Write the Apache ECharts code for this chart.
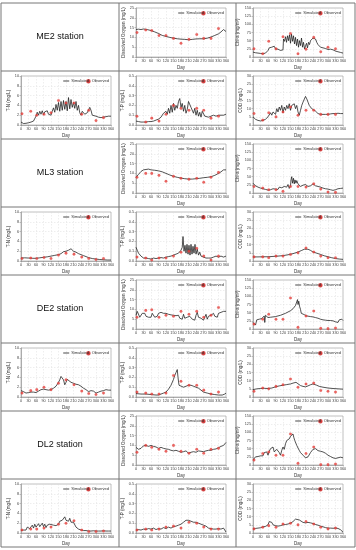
<!DOCTYPE html>
<html><head><meta charset="utf-8">
<script src="https://cdn.jsdelivr.net/npm/echarts@6/dist/echarts.min.js"></script>
<style>html,body{margin:0;padding:0;background:#fff}#c{width:356px;height:550px}</style>
</head><body><div id="c"></div>
<script>
const stations = ['ME2 station','ML3 station','DE2 station','DL2 station'];
const xTicks = [0,30,60,90,120,150,180,210,240,270,300,330,360];
const obsDays = [4,39,63,92,120,150,180,212,243,271,300,330];

// ---- ME2 ----
const ME2_DO_sim = [[0,14],[10,14.2],[20,14],[30,14.3],[45,14],[60,13.5],[75,12.8],[90,12],[105,11],[120,10.5],[135,10],[150,9.6],[165,9.3],[180,9.1],[195,9],[210,8.8],[225,9],[240,9.2],[255,9.3],[270,9.3],[285,9.6],[300,10.2],[315,11],[330,11.8],[340,12.8],[350,14],[355,13.5],[360,13]];
const ME2_DO_obs = [12.5,13.8,13.5,11,11,9.5,7,9,11.5,9.5,9.5,14.5];
const ME2_Chl_sim = [[0,15],[10,13],[20,12],[30,11],[40,10],[50,12],[55,16],[60,20],[65,28],[70,22],[75,30],[80,26],[85,33],[90,25],[95,28],[100,24],[105,27],[110,20],[115,21],[120,22],[122,55],[126,48],[130,62],[134,45],[138,65],[142,50],[146,68],[150,42],[154,70],[158,48],[162,65],[166,40],[170,60],[174,35],[178,55],[182,30],[186,50],[190,35],[194,58],[198,30],[202,45],[206,25],[210,30],[214,42],[218,28],[222,45],[226,38],[230,50],[235,48],[240,58],[245,60],[250,55],[255,45],[260,38],[265,34],[270,30],[280,28],[290,26],[300,23],[310,24],[320,22],[330,18],[340,16],[350,14],[360,12]];
const ME2_Chl_obs = [25,10,48,25,62,72,10,24,60,16,30,25];
const ME2_TN_sim = [[0,0.6],[5,0.4],[10,0.3],[20,0.35],[30,0.45],[40,0.6],[50,0.8],[55,1.2],[60,1.8],[65,2.6],[70,2.0],[75,2.8],[80,2.2],[85,2.9],[90,2.1],[95,2.7],[100,2.3],[105,2.9],[110,2.2],[115,2.6],[120,2.0],[125,2.8],[130,3.5],[135,2.6],[140,4.2],[145,3.0],[150,4.6],[155,2.8],[160,4.8],[165,3.0],[170,5.0],[175,3.2],[180,4.8],[185,2.9],[190,5.6],[195,3.3],[200,5.2],[205,3.6],[210,4.6],[215,3.4],[220,4.8],[225,3.0],[230,4.0],[235,2.5],[240,2.0],[245,2.8],[250,3.0],[255,2.2],[260,2.0],[265,2.5],[270,2.4],[275,3.6],[280,3.0],[285,2.0],[290,1.8],[300,1.8],[310,1.6],[320,1.5],[330,1.6],[340,1.7],[350,1.8],[360,1.8]];
const ME2_TN_obs = [2.3,2.8,2,2.2,2.5,5,4.5,4.5,2.2,3,0.9,1.5];
const ME2_TP_sim = [[0,0.04],[10,0.035],[20,0.03],[30,0.03],[40,0.03],[50,0.035],[60,0.035],[70,0.04],[80,0.05],[90,0.06],[100,0.08],[105,0.1],[110,0.12],[115,0.1],[120,0.14],[125,0.11],[130,0.17],[135,0.12],[140,0.2],[145,0.13],[150,0.22],[155,0.15],[160,0.2],[165,0.17],[170,0.24],[175,0.27],[180,0.18],[185,0.22],[190,0.14],[195,0.2],[200,0.12],[205,0.16],[210,0.24],[215,0.26],[220,0.18],[225,0.2],[230,0.12],[235,0.17],[240,0.1],[245,0.15],[250,0.09],[255,0.13],[260,0.08],[265,0.14],[270,0.12],[275,0.09],[280,0.1],[290,0.08],[300,0.09],[310,0.1],[320,0.09],[330,0.1],[340,0.1],[350,0.1],[360,0.11]];
const ME2_TP_obs = [0.09,0.03,0.07,0.04,0.11,0.2,0.17,0.15,0.17,0.15,0.07,0.09];
const ME2_COD_sim = [[0,5],[10,3.5],[20,2.8],[30,2.5],[40,2.8],[50,3.5],[60,5],[65,6],[70,7.5],[75,6],[80,8],[85,9],[90,6.5],[95,10],[100,8],[105,11],[110,9],[115,12],[120,7.5],[125,11],[130,9],[135,12],[140,10],[145,13],[150,9],[155,12],[160,11],[165,13],[170,10],[175,12],[180,8],[185,6],[190,9],[195,12],[200,14],[205,15],[210,17.5],[215,16],[220,14],[225,12],[230,11],[235,10],[240,9],[250,8.5],[260,7],[270,6.5],[280,6.5],[290,6.5],[300,6.5],[310,6.8],[320,7],[330,7],[340,7.2],[350,7],[360,7]];
const ME2_COD_obs = [7,3,7.5,5,8,11,6,9,9,6.5,6.5,6.5];

// ---- ML3 ----
const ML3_DO_sim = [[0,8],[10,9.5],[20,11],[30,11.8],[40,12],[50,12.2],[60,11.8],[75,11.6],[90,11.3],[105,10.8],[120,10],[135,9.2],[150,8.5],[165,8],[180,7.6],[195,7.3],[210,7.1],[225,7.1],[240,7.3],[255,7.5],[270,7.8],[285,8],[300,8.3],[315,9],[330,10],[340,10.8],[350,11.8],[355,12],[360,11.8]];
const ML3_DO_obs = [8,10,10,9,6,8.5,7.5,7,7.5,5.5,8,10.5];
const ML3_Chl_sim = [[0,30],[5,28],[10,22],[15,20],[20,18],[25,16],[30,15],[40,13],[50,11],[55,8],[60,9],[65,12],[70,10],[80,13],[90,12],[95,9],[100,11],[105,18],[110,22],[115,16],[120,14],[125,20],[130,24],[135,18],[140,26],[145,14],[150,22],[152,40],[155,50],[158,30],[162,45],[165,28],[168,40],[172,30],[175,38],[180,28],[185,25],[190,20],[195,22],[200,24],[205,20],[210,26],[215,22],[220,20],[230,22],[240,28],[245,25],[250,22],[260,20],[270,18],[280,15],[290,13],[300,12],[310,10],[320,8],[330,10],[340,13],[350,14],[360,15]];
const ML3_Chl_obs = [20,15,10,10,5,20,20,18,28,12,3,2];
const ML3_TN_sim = [[0,0.6],[15,0.65],[30,0.6],[45,0.55],[60,0.55],[75,0.65],[90,0.75],[105,0.85],[120,1.0],[135,1.15],[150,1.3],[160,1.5],[165,1.7],[170,1.9],[175,1.6],[180,2.0],[185,1.8],[190,2.2],[195,2.3],[200,2.5],[205,2.3],[210,2.0],[220,1.8],[230,1.5],[240,1.3],[250,1.1],[260,0.9],[270,0.7],[285,0.5],[300,0.4],[315,0.3],[330,0.25],[345,0.2],[360,0.2]];
const ML3_TN_obs = [0.5,0.6,0.5,0.7,0.5,1.2,1.6,1.4,0.8,0.5,0.3,0.5];
const ML3_TP_sim = [[0,0.14],[5,0.11],[10,0.08],[20,0.05],[30,0.03],[40,0.03],[50,0.025],[60,0.02],[70,0.03],[80,0.025],[90,0.03],[100,0.035],[110,0.03],[120,0.04],[130,0.045],[140,0.05],[150,0.06],[160,0.07],[170,0.08],[180,0.11],[185,0.14],[188,0.25],[192,0.1],[196,0.16],[200,0.08],[204,0.17],[208,0.07],[212,0.16],[216,0.06],[220,0.17],[224,0.07],[228,0.15],[232,0.08],[236,0.17],[240,0.07],[245,0.12],[250,0.06],[255,0.09],[260,0.05],[270,0.04],[280,0.03],[290,0.03],[300,0.03],[310,0.04],[320,0.05],[330,0.04],[340,0.05],[350,0.04],[360,0.05]];
const ML3_TP_obs = [0.04,0.03,0.01,0.03,0.03,0.05,0.09,0.1,0.13,0.05,0.01,0.05];
const ML3_COD_sim = [[0,2.5],[20,2.5],[40,2.6],[60,2.6],[80,2.8],[100,3],[120,3.3],[140,3.8],[160,4.5],[180,5.5],[195,6.5],[205,7.2],[212,7.8],[220,7.2],[230,6.5],[240,5.5],[255,4.8],[270,4],[285,3.2],[300,2.6],[315,2],[330,1.5],[345,1.2],[360,1]];
const ML3_COD_obs = [2.5,2.5,2,3,3,4,5,8,5.5,3,2,2];

// ---- DE2 ----
const DE2_DO_sim = [[0,7],[5,9],[10,10],[15,6],[20,5],[25,8],[30,9],[35,8],[40,6.5],[45,7.5],[50,6],[55,7],[60,6],[65,8],[70,7.5],[75,6],[80,7],[85,6.5],[90,8],[95,7],[100,8.5],[105,9.5],[110,8],[115,7],[120,8],[125,7],[130,7.5],[135,6.8],[140,7.2],[145,6.5],[150,7],[155,6],[160,6.8],[165,6.2],[170,7],[175,5.5],[180,6.5],[185,5],[190,7.5],[195,5.5],[200,4.5],[205,6],[210,5],[215,6.5],[220,7.5],[225,5],[230,6],[235,4.5],[240,7],[245,8.5],[250,6],[255,7],[260,5.5],[265,6.5],[270,4.5],[275,6],[280,7.5],[285,5],[290,6.5],[295,5.5],[300,7],[305,6],[310,8],[315,6.5],[320,7.5],[325,6],[330,8],[335,7],[340,8.5],[345,7.5],[350,9],[355,9.5],[360,9]];
const DE2_DO_obs = [6,9.5,9.8,6,7,6.5,9,7.5,9,6,7,11];
const DE2_Chl_sim = [[0,20],[5,15],[10,12],[15,28],[20,25],[25,30],[30,28],[35,32],[40,30],[45,40],[47,20],[50,42],[55,38],[60,35],[70,36],[80,37],[90,38],[100,40],[110,42],[120,45],[130,48],[140,52],[150,56],[160,62],[165,68],[170,72],[175,78],[178,90],[180,75],[183,85],[186,70],[190,60],[193,48],[196,45],[200,46],[205,44],[210,45],[215,40],[220,38],[230,38],[240,37],[250,35],[260,33],[270,30],[280,28],[290,27],[300,26],[310,26],[320,25],[330,22],[340,20],[345,28],[350,25],[355,30],[360,26]];
const DE2_Chl_obs = [15,30,45,30,30,95,5,40,55,2,1,3];
const DE2_TN_sim = [[0,1.3],[10,1.1],[20,0.8],[30,0.9],[40,1.0],[50,1.0],[60,0.9],[70,1.2],[80,1.5],[90,1.6],[100,1.5],[110,1.4],[120,1.5],[130,1.8],[140,2.2],[150,3.0],[155,3.5],[160,4.2],[165,4.6],[170,3.5],[175,2.5],[180,3.0],[185,3.6],[190,3.3],[200,3.0],[210,2.8],[220,2.6],[230,2.5],[240,2.2],[250,1.8],[260,1.5],[270,1.1],[280,1.3],[290,1.2],[300,0.8],[310,1.0],[320,1.2],[330,1.3],[340,1.5],[350,1.4],[360,1.4]];
const DE2_TN_obs = [0.8,1.3,1.5,2,1.5,2.8,3.5,2.5,1.2,0.7,0.5,0.8];
const DE2_TP_sim = [[0,0.035],[20,0.03],[40,0.03],[60,0.025],[80,0.02],[90,0.02],[100,0.03],[110,0.04],[120,0.05],[130,0.08],[140,0.12],[150,0.18],[155,0.22],[160,0.25],[165,0.28],[168,0.2],[172,0.12],[180,0.11],[190,0.1],[200,0.11],[210,0.12],[220,0.12],[230,0.11],[240,0.1],[250,0.09],[260,0.07],[270,0.05],[285,0.04],[300,0.03],[315,0.025],[330,0.02],[345,0.02],[355,0.03],[360,0.04]];
const DE2_TP_obs = [0.05,0.04,0.03,0.03,0.04,0.22,0.16,0.12,0.12,0.07,0.03,0.05];
const DE2_COD_sim = [[0,4.5],[15,5],[30,5.2],[45,5.3],[60,5.2],[75,5.5],[90,6.2],[105,6.8],[120,7.2],[135,7.6],[150,8],[160,8.5],[168,9.5],[172,9],[180,8],[190,7],[200,6.5],[210,6.2],[220,6.8],[230,7.5],[240,8],[245,8.2],[255,7.2],[265,6.5],[280,6],[300,5.5],[320,5.2],[340,5],[360,4.8]];
const DE2_COD_obs = [3.5,5.5,5,6.5,7.5,11,6,8,8.5,4,3.5,3];

// ---- DL2 ----
const DL2_DO_sim = [[0,9],[5,8.5],[10,8],[15,9],[20,8.5],[25,9.5],[30,9.8],[35,9.5],[40,10],[45,10.2],[50,9.5],[55,9],[60,10],[65,10.2],[70,9.5],[75,10],[80,9.2],[85,8.8],[90,8.5],[100,9],[110,8.5],[120,8.2],[130,8],[140,7.5],[150,7.2],[160,7.5],[170,7],[180,6.5],[185,7.2],[190,6.8],[200,7.2],[205,6.5],[210,6],[215,6.8],[220,6.5],[225,7.2],[230,6.8],[240,6.5],[245,7],[250,7.2],[260,7],[270,6.8],[275,7.5],[280,7.2],[290,7.5],[300,7.5],[310,8],[320,8.2],[330,8.8],[340,9.5],[345,9],[350,10],[355,11],[360,11.5]];
const DL2_DO_obs = [6.5,10,9,8,7,10,7,6,8,6,8,8.5];
const DL2_Chl_sim = [[0,15],[5,20],[10,25],[15,22],[20,26],[25,20],[30,28],[35,32],[40,28],[45,38],[50,34],[55,40],[60,30],[65,42],[70,50],[75,45],[80,55],[85,40],[90,35],[95,48],[100,52],[105,38],[110,30],[115,45],[120,55],[125,48],[130,65],[135,75],[140,72],[145,80],[150,88],[155,92],[160,95],[163,85],[167,75],[170,70],[175,60],[180,52],[185,45],[190,38],[195,33],[200,30],[205,25],[210,22],[215,28],[220,25],[225,30],[230,38],[235,42],[240,48],[245,52],[250,50],[255,46],[260,44],[270,42],[280,40],[290,36],[300,30],[310,26],[320,22],[330,20],[340,22],[350,24],[360,22]];
const DL2_Chl_obs = [15,35,40,30,30,95,5,35,55,1,1,3];
const DL2_TN_sim = [[0,0.5],[10,0.6],[20,0.6],[25,1.2],[30,1.5],[35,0.9],[40,1.1],[45,1.6],[50,1.0],[55,1.8],[60,1.2],[65,0.8],[70,1.9],[75,1.3],[80,1.0],[85,2.0],[90,1.3],[95,1.8],[100,1.1],[105,1.6],[110,1.2],[115,1.8],[120,1.5],[130,1.6],[140,1.5],[150,1.8],[155,2.4],[160,2.0],[165,2.6],[170,3.0],[175,3.3],[180,2.6],[185,2.8],[190,2.4],[195,3.0],[200,2.2],[205,2.5],[210,2.2],[215,1.8],[220,1.2],[225,1.0],[230,0.8],[240,0.6],[250,0.5],[260,0.5],[270,0.4],[280,0.4],[290,0.45],[300,0.4],[310,0.4],[320,0.4],[330,0.45],[340,0.4],[350,0.4],[360,0.4]];
const DL2_TN_obs = [0.6,0.8,0.8,1,1.2,1.8,2,2.5,0.6,0.3,0.3,0.4];
const DL2_TP_sim = [[0,0.03],[10,0.035],[20,0.03],[30,0.04],[40,0.035],[50,0.045],[60,0.04],[70,0.05],[80,0.035],[90,0.045],[100,0.04],[110,0.055],[120,0.045],[130,0.06],[140,0.05],[150,0.065],[160,0.07],[170,0.08],[180,0.09],[190,0.11],[200,0.13],[205,0.14],[210,0.13],[215,0.14],[220,0.12],[225,0.13],[230,0.11],[240,0.11],[250,0.1],[260,0.09],[270,0.08],[280,0.07],[290,0.05],[300,0.045],[310,0.04],[320,0.04],[330,0.045],[340,0.04],[350,0.05],[355,0.03],[360,0.01]];
const DL2_TP_obs = [0.03,0.04,0.03,0.04,0.06,0.07,0.05,0.11,0.1,0.06,0.04,0.04];
const DL2_COD_sim = [[0,2.5],[10,2.8],[20,3],[30,3.2],[40,3.8],[45,4.5],[50,4],[55,3.5],[60,5],[65,7],[70,6],[75,6.5],[80,5],[90,4.5],[100,4.2],[110,4.5],[120,5],[130,5.2],[140,5.5],[150,6],[160,7],[170,8.5],[178,9.5],[185,8],[190,7],[200,6.5],[210,6.2],[220,6.5],[230,6.2],[240,5.8],[250,5.2],[260,4.8],[270,4.2],[280,3.8],[290,3.3],[300,3],[310,3],[320,2.9],[330,3],[340,2.8],[345,3.2],[350,2],[355,1.5],[360,0.5]];
const DL2_COD_obs = [2.5,3.5,4.5,3.5,5.5,6,5,7,5.5,3.5,2.5,3];

// variable definitions (axis names and ranges)
const vars = {
  DO:  {name:'Dissolved Oxygen (mg/L)', max:25,  step:5},
  Chl: {name:'Chl-a (mg/m³)',           max:150, step:25},
  TN:  {name:'T-N (mg/L)',              max:10,  step:2},
  TP:  {name:'T-P (mg/L)',              max:0.5, step:0.1, dec:1},
  COD: {name:'COD (mg/L)',              max:30,  step:5}
};
const panels = [
  [0,0,1,'DO',ME2_DO_sim,ME2_DO_obs],[0,0,2,'Chl',ME2_Chl_sim,ME2_Chl_obs],
  [0,1,0,'TN',ME2_TN_sim,ME2_TN_obs],[0,1,1,'TP',ME2_TP_sim,ME2_TP_obs],[0,1,2,'COD',ME2_COD_sim,ME2_COD_obs],
  [1,0,1,'DO',ML3_DO_sim,ML3_DO_obs],[1,0,2,'Chl',ML3_Chl_sim,ML3_Chl_obs],
  [1,1,0,'TN',ML3_TN_sim,ML3_TN_obs],[1,1,1,'TP',ML3_TP_sim,ML3_TP_obs],[1,1,2,'COD',ML3_COD_sim,ML3_COD_obs],
  [2,0,1,'DO',DE2_DO_sim,DE2_DO_obs],[2,0,2,'Chl',DE2_Chl_sim,DE2_Chl_obs],
  [2,1,0,'TN',DE2_TN_sim,DE2_TN_obs],[2,1,1,'TP',DE2_TP_sim,DE2_TP_obs],[2,1,2,'COD',DE2_COD_sim,DE2_COD_obs],
  [3,0,1,'DO',DL2_DO_sim,DL2_DO_obs],[3,0,2,'Chl',DL2_Chl_sim,DL2_Chl_obs],
  [3,1,0,'TN',DL2_TN_sim,DL2_TN_obs],[3,1,1,'TP',DL2_TP_sim,DL2_TP_obs],[3,1,2,'COD',DL2_COD_sim,DL2_COD_obs]
];

// layout
const colX = [1,119,236,355];
const plotLeft = [21,136,253];
const plotW = 90;
const rowTop0 = 3, rowH = 68;
const FONT = 'Liberation Sans, Arial, sans-serif';

const grids=[], xAxes=[], yAxes=[], series=[], legends=[];
panels.forEach((p,i)=>{
  const [st,rr,c,vk,sim,obs] = p;
  const v = vars[vk];
  const top = rowTop0 + (st*2+rr)*rowH;
  grids.push({left:plotLeft[c], top:top+5, width:plotW, height:49, show:true, borderColor:'#999', borderWidth:0.6, containLabel:false});
  xAxes.push({type:'value', gridIndex:i, min:0, max:360, interval:30, name:'Day', nameLocation:'middle', nameGap:8,
    nameTextStyle:{fontSize:4.5, color:'#333', fontFamily:FONT},
    axisLine:{show:true, onZero:false, lineStyle:{color:'#888', width:0.6}},
    axisTick:{show:true, length:1.5, lineStyle:{color:'#888', width:0.5}},
    axisLabel:{fontSize:3.8, color:'#444', margin:2, fontFamily:FONT},
    splitLine:{show:true, lineStyle:{color:'#ddd', width:0.5, type:[1.5,1.5]}}});
  yAxes.push({type:'value', gridIndex:i, min:0, max:v.max, interval:v.step, name:v.name, nameLocation:'middle', nameGap:v.dec?11:9,
    nameTextStyle:{fontSize:4.5, color:'#333', fontFamily:FONT},
    axisLine:{show:true, lineStyle:{color:'#888', width:0.6}},
    axisTick:{show:true, length:1.5, lineStyle:{color:'#888', width:0.5}},
    axisLabel:{fontSize:3.8, color:'#444', margin:2, fontFamily:FONT, formatter: v.dec? (x)=>x.toFixed(1) : null},
    splitLine:{show:true, lineStyle:{color:'#ddd', width:0.5, type:[1.5,1.5]}}});
  series.push({name:'Simulated', type:'line', xAxisIndex:i, yAxisIndex:i, data:sim, symbol:'none',
    lineStyle:{color:'#1a1a1a', width:0.75}, itemStyle:{color:'#1a1a1a'}, animation:false, z:3});
  series.push({name:'Observed', type:'scatter', xAxisIndex:i, yAxisIndex:i, data:obs.map((y,k)=>[obsDays[k],y]),
    symbol:'circle', symbolSize:2.6, itemStyle:{color:'#e8413c', borderColor:'#c22', borderWidth:0.2}, animation:false, z:4});
  const rEdge = 356-(plotLeft[c]+plotW);
  legends.push({right: rEdge+2, top: top+8, itemWidth:2.5, itemHeight:2.5, itemGap:2, icon:'circle',
    textStyle:{fontSize:4, color:'#333', fontFamily:FONT, padding:[0,0,0,-3]}, padding:0,
    data:['Observed'], selectedMode:false});
  legends.push({right: rEdge+22, top: top+8, itemWidth:6, itemHeight:0.8, itemGap:2, icon:'rect',
    textStyle:{fontSize:4, color:'#333', fontFamily:FONT, padding:[0,0,0,-3]}, padding:0,
    data:['Simulated'], selectedMode:false});
});

// table lines and station labels
const graphics=[];
const yTop = rowTop0, yBot = rowTop0+8*rowH;
colX.forEach(x=>graphics.push({type:'line', shape:{x1:x, y1:yTop, x2:x, y2:yBot}, style:{stroke:'#777', lineWidth:1}, z:10}));
for(let r=0;r<=8;r++){ const y=rowTop0+r*rowH; graphics.push({type:'line', shape:{x1:colX[0], y1:y, x2:colX[3], y2:y}, style:{stroke:'#777', lineWidth:1}, z:10}); }
stations.forEach((s,k)=>{
  graphics.push({type:'text', x:(colX[0]+colX[1])/2, y:rowTop0 + k*2*rowH + rowH/2,
    style:{text:s, fill:'#111', font:'9px '+FONT, textAlign:'center', textVerticalAlign:'middle'}, z:10});
});

const chart = echarts.init(document.getElementById('c'), null, {renderer:'canvas'});
chart.setOption({animation:false, backgroundColor:'#fff', grid:grids, xAxis:xAxes, yAxis:yAxes, series:series, legend:legends, graphic:graphics});
</script></body></html>
